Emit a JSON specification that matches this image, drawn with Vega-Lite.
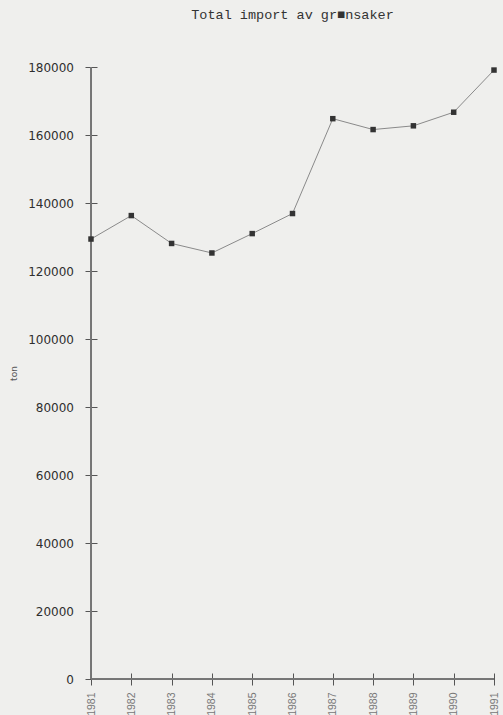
{
  "$schema": "https://vega.github.io/schema/vega-lite/v6.json",
  "width": 403,
  "height": 612,
  "autosize": "none",
  "padding": {"left": 91, "top": 67, "right": 9, "bottom": 36},
  "background": "#efefed",
  "title": {
    "text": "Total import av gr■nsaker",
    "font": "Liberation Mono",
    "fontSize": 13.5,
    "fontWeight": "normal",
    "color": "#333333",
    "anchor": "middle",
    "offset": 40
  },
  "config": {
    "view": {"stroke": null},
    "axis": {"grid": false, "domainColor": "#555555", "tickColor": "#555555", "domainWidth": 1, "tickWidth": 1}
  },
  "data": {
    "values": [
      {"year": "1981", "ton": 129400},
      {"year": "1982", "ton": 136300},
      {"year": "1983", "ton": 128100},
      {"year": "1984", "ton": 125300},
      {"year": "1985", "ton": 131000},
      {"year": "1986", "ton": 136900},
      {"year": "1987", "ton": 164800},
      {"year": "1988", "ton": 161600},
      {"year": "1989", "ton": 162700},
      {"year": "1990", "ton": 166700},
      {"year": "1991", "ton": 179100}
    ]
  },
  "layer": [
    {
      "mark": {"type": "line", "color": "#8a8a8a", "strokeWidth": 1},
      "encoding": {
        "x": {"field": "year", "type": "ordinal", "scale": {"type": "point", "padding": 0},
          "axis": {"orient": "bottom", "title": null, "labelAngle": -90, "tickSize": 12, "offset": -6, "domain": false,
            "labelPadding": 7, "labelFont": "Liberation Sans", "labelFontSize": 10.5, "labelColor": "#777777"}},
        "y": {"field": "ton", "type": "quantitative", "scale": {"domain": [0, 180000], "nice": false},
          "axis": {"orient": "left", "title": "ton", "values": [0, 20000, 40000, 60000, 80000, 100000, 120000, 140000, 160000, 180000],
            "format": "d", "tickSize": 12, "offset": -6, "domain": false, "labelPadding": 11.5, "labelFont": "DejaVu Sans", "labelFontSize": 12,
            "labelColor": "#2e2e2e", "titleFont": "DejaVu Sans", "titleFontSize": 9, "titleFontWeight": "normal",
            "titleColor": "#555555", "titlePadding": 9}}
      }
    },
    {
      "mark": {"type": "rule", "color": "#777777", "strokeWidth": 0.9},
      "encoding": {
        "x": {"datum": "1981"},
        "y": {"datum": 0},
        "y2": {"datum": 180000}
      }
    },
    {
      "mark": {"type": "rule", "color": "#777777", "strokeWidth": 0.9},
      "encoding": {
        "x": {"datum": "1981"},
        "x2": {"datum": "1991"},
        "y": {"datum": 0}
      }
    },
    {
      "mark": {"type": "point", "shape": "square", "filled": true, "color": "#333333", "size": 30, "opacity": 1},
      "encoding": {
        "x": {"field": "year", "type": "ordinal", "scale": {"type": "point", "padding": 0}},
        "y": {"field": "ton", "type": "quantitative", "scale": {"domain": [0, 180000], "nice": false}}
      }
    }
  ]
}
